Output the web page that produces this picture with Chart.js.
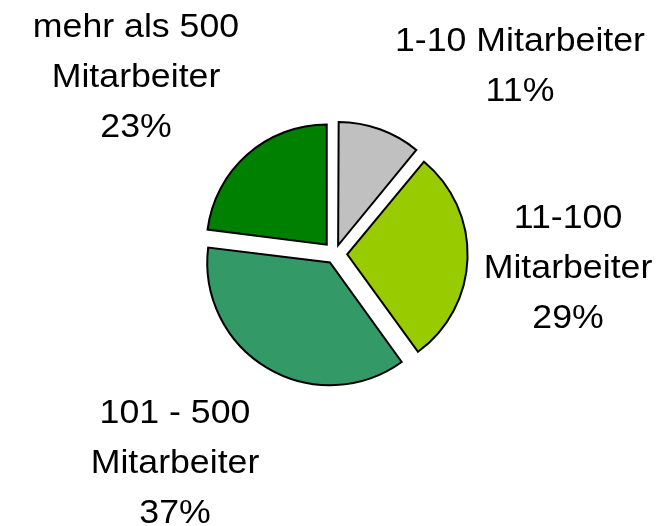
<!DOCTYPE html>
<html>
<head>
<meta charset="utf-8">
<script src="https://cdn.jsdelivr.net/npm/chart.js@4"></script>
<style>
   html, body { margin: 0; padding: 0; background: #ffffff; }
   canvas { display: block; }
</style>
</head>
<body>
<canvas id="pieChart" width="661" height="526"></canvas>
<script>
// Data
const categories = ["1-10 Mitarbeiter", "11-100 Mitarbeiter", "101 - 500 Mitarbeiter", "mehr als 500 Mitarbeiter"]
const shares = [11, 29, 37, 23]
// label text, line by line
const labelLines = [
   ["1-10 Mitarbeiter", "11%"],
   ["11-100", "Mitarbeiter", "29%"],
   ["101 - 500", "Mitarbeiter", "37%"],
   ["mehr als 500", "Mitarbeiter", "23%"],
]

// Styling
const sliceColors = ["#c0c0c0", "#99cc00", "#339966", "#008000"]
// label text placement relative to pie centre: [centre x, first baseline y]
const labelAnchors = [
   [185, -203],
   [233, -26],
   [-160, 169],
   [-199, -217],
]
const explodeGap = 12.6
const fontSize = 34
const stretchX = 1.05
const lineGap = 50

// Chart.js divides arc offset by 4 and adds extra for narrow slices;
// undo that so every slice moves out by the same distance
const total = shares.reduce((a, b) => a + b, 0)
const explodeOffset = ctx => {
   const circ = (shares[ctx.dataIndex] / total) * Math.PI * 2
   const fix = 1 - Math.sin(Math.min(Math.PI, circ))
   return (explodeGap * 4) / (1 + fix)
}

const pieLabels = {
   id: "pieLabels",
   afterDatasetsDraw(chart) {
      const ctx = chart.ctx
      const arc = chart.getDatasetMeta(0).data[0]
      const cx = arc.x
      const cy = arc.y
      ctx.save()
      ctx.fillStyle = "#000000"
      ctx.font = `${fontSize}px "Liberation Sans", Arial, sans-serif`
      ctx.textAlign = "center"
      ctx.textBaseline = "alphabetic"
      labelLines.forEach((lines, i) => {
         const [ax, ay] = labelAnchors[i]
         lines.forEach((line, j) => {
            ctx.save()
            ctx.translate(cx + ax, cy + ay + j * lineGap)
            ctx.scale(stretchX, 1)
            ctx.fillText(line, 0, 0)
            ctx.restore()
         })
      })
      ctx.restore()
   },
}

const pieChart = new Chart(document.getElementById("pieChart").getContext("2d"), {
   type: "pie",
   data: {
      labels: categories,
      datasets: [
         {
            data: shares,
            backgroundColor: sliceColors,
            borderColor: "#000000",
            borderWidth: 2,
            borderJoinStyle: "miter",
            offset: explodeOffset,
         },
      ],
   },
   options: {
      responsive: false,
      animation: false,
      radius: 120,
      layout: {
         padding: { left: 109, right: 100, top: 82, bottom: 100 },
      },
      plugins: {
         legend: { display: false },
         tooltip: { enabled: false },
      },
   },
   plugins: [pieLabels],
})
</script>
</body>
</html>
